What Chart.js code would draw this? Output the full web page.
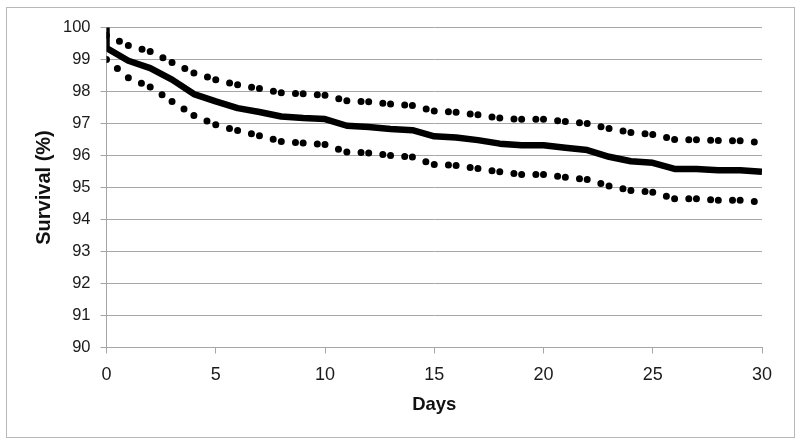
<!DOCTYPE html>
<html>
<head>
<meta charset="utf-8">
<script src="https://cdn.jsdelivr.net/npm/chart.js@4"></script>
<style>
  html, body { margin: 0; padding: 0; background: #fff; }
  #wrap { width: 800px; height: 446px; position: relative; }
</style>
</head>
<body>
<div id="wrap"><canvas id="survival-chart"></canvas></div>
<script>
// Kaplan-Meier survival with 95% confidence band
const days = [0, 1, 2, 3, 4, 5, 6, 7, 8, 9, 10, 11, 12, 13, 14, 15,
  16, 17, 18, 19, 20, 21, 22, 23, 24, 25, 26, 27, 28, 29, 30];
const survivalAtStart = 100;
const survival = [99.36, 98.96, 98.73, 98.37, 97.92, 97.69, 97.48, 97.36, 97.22, 97.17, 97.14,
  96.93, 96.89, 96.83, 96.79, 96.60, 96.56, 96.48, 96.37, 96.32, 96.32,
  96.24, 96.17, 95.96, 95.82, 95.77, 95.58, 95.58, 95.54, 95.54, 95.49];
const upperCI = [99.75, 99.44, 99.25, 98.91, 98.58, 98.37, 98.21, 98.09, 97.96, 97.93, 97.88,
  97.71, 97.68, 97.61, 97.56, 97.39, 97.35, 97.27, 97.17, 97.13, 97.13,
  97.06, 97.00, 96.84, 96.72, 96.66, 96.50, 96.49, 96.47, 96.46, 96.40];
const lowerCI = [99.00, 98.43, 98.14, 97.69, 97.25, 96.96, 96.78, 96.62, 96.44, 96.39, 96.34,
  96.11, 96.08, 96.00, 95.95, 95.72, 95.69, 95.59, 95.49, 95.41, 95.41,
  95.32, 95.25, 95.05, 94.91, 94.85, 94.65, 94.65, 94.60, 94.60, 94.54];

const fontFamily = "'Liberation Sans', Arial, sans-serif";
const gridColor = "#a6a6a6";

// every day-segment of a band restarts its dash: a dot at the start and one 14px on,
// which gives the paired dots of the original
const dotGap = 14.2;
const pairedDots = {
  borderDash: (ctx) => [0, dotGap, 0, 1000 + (ctx.p0DataIndex % 2) * 0.01],
  borderDashOffset: 0,
};

function bandDataset(values) {
  return {
    data: days.map((d, i) => ({ x: d, y: values[i] })),
    borderColor: "#000",
    borderWidth: 7,
    borderCapStyle: "round",
    pointRadius: 0,
    tension: 0,
    segment: pairedDots,
  };
}

const frame = {
  id: "frame",
  beforeDraw(chart) {
    const c = chart.ctx;
    c.save();
    c.strokeStyle = "#b8b8b8";
    c.lineWidth = 1;
    c.strokeRect(6.5, 7.5, 788, 430);
    c.restore();
  },
};

new Chart(document.querySelector("#survival-chart").getContext("2d"), {
  type: "line",
  data: {
    datasets: [
      {
        data: [{ x: 0, y: survivalAtStart }].concat(
          days.map((d, i) => ({ x: d, y: survival[i] }))
        ),
        borderColor: "#000",
        borderWidth: 6.5,
        borderJoinStyle: "round",
        pointRadius: 0,
        tension: 0,
      },
      bandDataset(upperCI),
      bandDataset(lowerCI),
    ],
  },
  options: {
    responsive: true,
    maintainAspectRatio: false,
    animation: false,
    layout: { padding: { top: 27.5, right: 38, left: 0, bottom: 0 } },
    plugins: { legend: { display: false }, tooltip: { enabled: false } },
    scales: {
      x: {
        type: "linear",
        min: 0,
        max: 30,
        ticks: { stepSize: 5, color: "#1a1a1a", font: { family: fontFamily, size: 18 }, padding: 10.5, maxRotation: 0 },
        grid: { drawOnChartArea: false, color: gridColor, tickLength: 6 },
        border: { color: gridColor },
        title: {
          display: true,
          text: "Days",
          color: "#111",
          font: { family: fontFamily, size: 18.5, weight: "bold" },
          padding: { top: 0, bottom: 30 },
        },
        afterFit: (scale) => { scale.height = 98.5; },
      },
      y: {
        min: 90,
        max: 100,
        ticks: { stepSize: 1, color: "#1a1a1a", font: { family: fontFamily, size: 16.5 }, padding: 10 },
        grid: { color: gridColor, tickLength: 6 },
        border: { color: gridColor },
        title: {
          display: true,
          text: "Survival (%)",
          color: "#111",
          font: { family: fontFamily, size: 20, weight: "bold" },
          padding: { top: 32, bottom: 0 },
        },
        afterFit: (scale) => { scale.width = 106.5; },
      },
    },
  },
  plugins: [frame],
});
</script>
</body>
</html>
